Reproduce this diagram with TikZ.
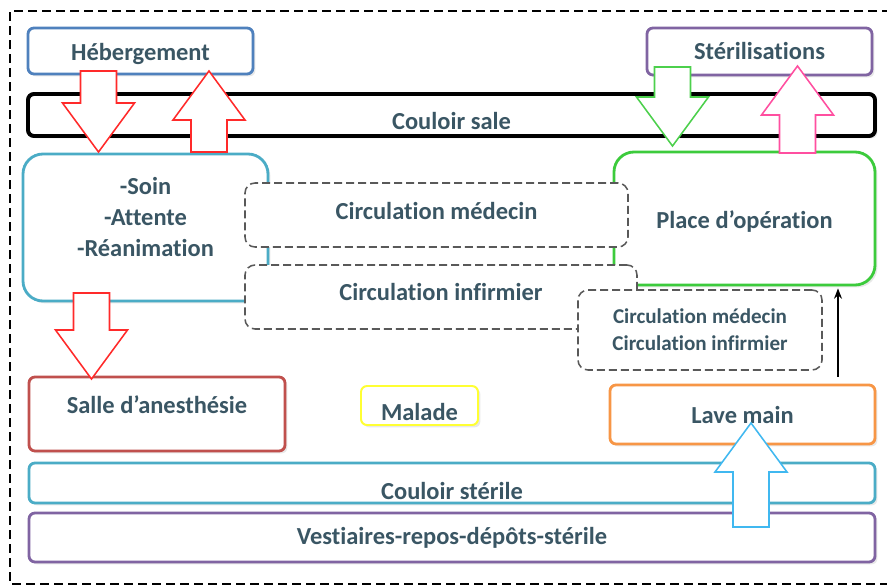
\documentclass[tikz,border=0pt]{standalone}
\usepackage{fontspec}
\setmainfont{Carlito}[Ligatures=NoCommon]
\usepackage{xcolor}
\definecolor{txtcol}{HTML}{3A5664}
\definecolor{hebblue}{HTML}{4F81BD}
\definecolor{violet}{HTML}{8064A2}
\definecolor{cyanbox}{HTML}{4BACC6}
\definecolor{opgreen}{HTML}{3CCB3C}
\definecolor{anesred}{HTML}{C0504D}
\definecolor{malyellow}{HTML}{FFFF33}
\definecolor{laveorange}{HTML}{F79646}
\definecolor{redarrow}{HTML}{FF2A2A}
\definecolor{greenarrow}{HTML}{4CD04C}
\definecolor{pinkarrow}{HTML}{FF4FA0}
\definecolor{bluearrow}{HTML}{40B8F0}
\usetikzlibrary{arrows.meta, calc, shadows}

% grosse fleche creuse : depart, pointe, couleur
\newcommand{\fatarrow}[3]{%
  \coordinate (fabase) at ($(#2)!12.25mm!(#1)$);
  \draw[#3, line width=1.1pt, fill=white, line join=miter]
    ($(#1)!4.5mm!90:(#2)$) -- ($(fabase)!4.5mm!90:(#2)$) -- ($(fabase)!9mm!90:(#2)$)
    -- (#2) -- ($(fabase)!9mm!-90:(#2)$) -- ($(fabase)!4.5mm!-90:(#2)$)
    -- ($(#1)!4.5mm!-90:(#2)$) -- cycle;
}

\begin{document}
\begin{tikzpicture}[x=0.25mm, y=-0.25mm, >=Stealth,
  lbl/.style={font=\bfseries\fontsize{17.4}{22}\selectfont, text=txtcol, align=center},
  box/.style={draw=#1, line width=2pt, rounded corners=1.5mm, fill=white,
              lbl, drop shadow={shadow xshift=0.6mm, shadow yshift=-0.6mm, opacity=0.18}},
  dashbox/.style={draw=black!65, line width=1.1pt, dash pattern=on 2mm off 1mm,
                  rounded corners=2.5mm, fill=white, lbl}]

  \useasboundingbox (0,0) rectangle (887,586);
  \clip (0,0) rectangle (887,586);

  % cadre (ouvert a droite, coupe par le bord)
  \draw[black, line width=1.4pt, dash pattern=on 2.2mm off 1.3mm]
    (905,11) -- (10,11) -- (10,584) -- (905,584);

  % haut
  \node[box=hebblue, minimum width=56.25mm, minimum height=11.5mm,
        label={[lbl, yshift=-0.8mm]center:Hébergement}] (heberg) at (140.5,51) {};
  \node[box=violet, minimum width=56.25mm, minimum height=11.75mm] (steril) at (759.5,51.5) {Stérilisations};
  \node[box=black, line width=2.8pt, minimum width=211.75mm, minimum height=10.5mm,
        label={[lbl, yshift=-1.5mm]center:Couloir sale}] (couloirsale) at (451.5,115) {};

  % milieu
  \node[box=cyanbox, rounded corners=5mm, minimum width=61.25mm, minimum height=36.75mm,
        label={[lbl, yshift=2.6mm]center:{-Soin\\-Attente\\-Réanimation}}] (soin) at (145.5,227.5) {};
  \node[box=opgreen, rounded corners=5mm, minimum width=65.25mm, minimum height=33.25mm,
        label={[lbl, yshift=-0.7mm]center:Place d’opération}] (place) at (744.5,218.5) {};

  \node[dashbox, minimum width=95.75mm, minimum height=16mm,
        label={[lbl, yshift=1mm]center:Circulation médecin}] (circmed) at (436.5,215) {};
  \node[dashbox, minimum width=98mm, minimum height=16mm,
        label={[lbl, yshift=1.25mm]center:Circulation infirmier}] (circinf) at (441,297) {};
  \node[dashbox, minimum width=61mm, minimum height=20mm,
        font=\bfseries\fontsize{15}{19}\selectfont] (circboth) at (700,330)
        {Circulation médecin\\Circulation infirmier};

  % bas
  \node[box=anesred, minimum width=64mm, minimum height=18.5mm,
        label={[lbl, yshift=2.25mm]center:Salle d’anesthésie}] (salle) at (157,414) {};
  \node[box=malyellow, line width=1.4pt, minimum width=29.25mm, minimum height=9.75mm,
        label={[lbl, yshift=-1.6mm]center:Malade}] (malade) at (419.5,405.5) {};
  \node[box=laveorange, minimum width=66.25mm, minimum height=14.75mm] (lave) at (742.5,414.5) {Lave main};
  \node[box=cyanbox, minimum width=211.5mm, minimum height=10mm,
        label={[lbl, yshift=-2mm]center:Couloir stérile}] (couloirster) at (452,483) {};
  \node[box=violet, minimum width=211.5mm, minimum height=12.25mm] (vest) at (452,537.5) {Vestiaires-repos-dépôts-stérile};

  % fleches
  \coordinate (hebout) at (98.5,71);   \coordinate (soinin) at (98.5,152);
  \coordinate (soinout) at (209,152);  \coordinate (hebin) at (209,71);
  \coordinate (sterout) at (672.5,67); \coordinate (placein) at (672.5,146);
  \coordinate (placeout) at (797.5,153); \coordinate (sterin) at (797.5,66);
  \coordinate (soindown) at (91.5,293); \coordinate (sallein) at (91.5,379);
  \coordinate (vestout) at (751,527);  \coordinate (lavein) at (751,423);

  \fatarrow{hebout}{soinin}{redarrow}
  \fatarrow{soinout}{hebin}{redarrow}
  \fatarrow{sterout}{placein}{greenarrow}
  \fatarrow{placeout}{sterin}{pinkarrow}
  \fatarrow{soindown}{sallein}{redarrow}
  \fatarrow{vestout}{lavein}{bluearrow}

  \coordinate (lx) at (838,0);
  \draw[-{Stealth[length=2.6mm, width=2mm]}, line width=0.9pt, shorten <=1.75mm, shorten >=0.5mm]
    (lave.north -| lx) -- (place.south -| lx);

\end{tikzpicture}
\end{document}
